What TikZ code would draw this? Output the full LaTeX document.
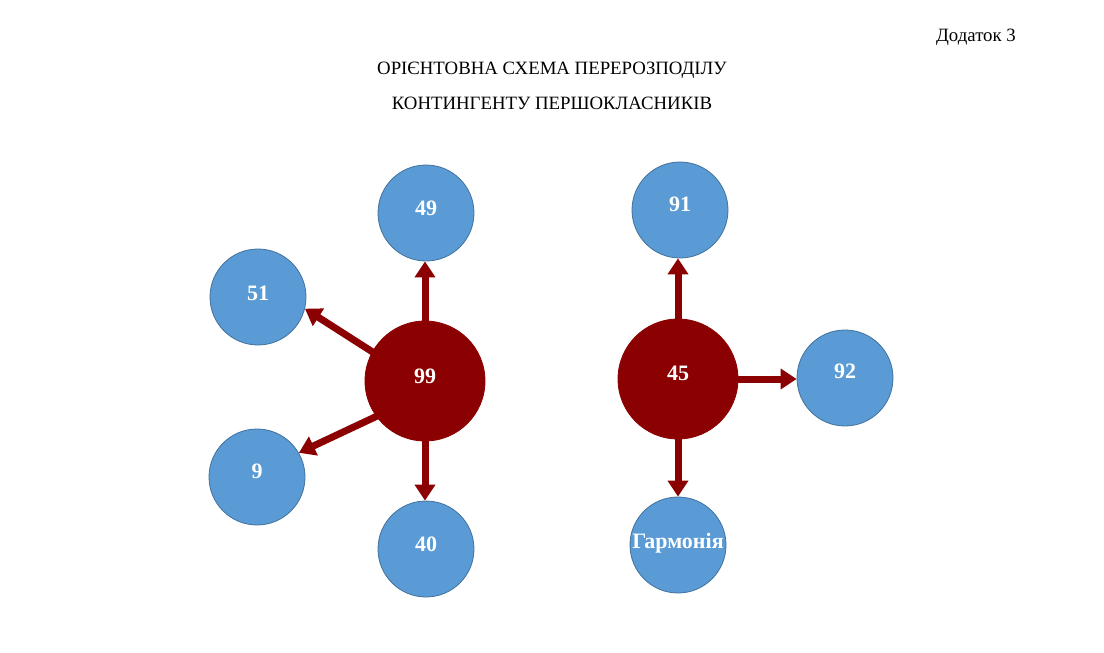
\documentclass[tikz,border=0pt]{standalone}
\usepackage{fontspec}
\setmainfont{Liberation Serif}
\usetikzlibrary{arrows.meta}
\definecolor{cblue}{HTML}{5B9BD5}
\definecolor{cblueb}{HTML}{41719C}
\definecolor{cred}{HTML}{8B0000}
\tikzset{
  small/.style={circle, fill=cblue, draw=cblueb, line width=0.8pt, minimum size=96pt, inner sep=0pt},
  big/.style={circle, fill=cred, draw=cred, line width=0.8pt, minimum size=120pt, inner sep=0pt},
  lab/.style={font=\bfseries\fontsize{22}{26}\selectfont, text=white},
  arr/.style={draw=cred, line width=7pt, -{Triangle[width=20pt,length=16pt]}, shorten <=-1pt},
  ttl/.style={font=\fontsize{18.8}{22}\selectfont}
}
\begin{document}
\begin{tikzpicture}[x=1pt,y=-1pt]
\useasboundingbox (0,0) rectangle (1104,653);
\node[ttl] (add) at (976,37) {Додаток 3};
\node[ttl] (t1) at (552,70) {ОРІЄНТОВНА СХЕМА ПЕРЕРОЗПОДІЛУ};
\node[ttl] (t2) at (552,103) {КОНТИНГЕНТУ ПЕРШОКЛАСНИКІВ};

\node[small, label={[lab,yshift=5pt]center:49}] (n49) at (426,213) {};
\node[small, label={[lab,yshift=4pt]center:51}] (n51) at (258,297) {};
\node[big, label={[lab,yshift=5pt]center:99}] (n99) at (425,381) {};
\node[small, label={[lab,yshift=6pt]center:9}] (n9) at (257,477) {};
\node[small, label={[lab,yshift=5pt]center:40}] (n40) at (426,549) {};

\node[small, label={[lab,yshift=6pt]center:91}] (n91) at (680,210) {};
\node[big, label={[lab,yshift=6pt]center:45}] (n45) at (678,379) {};
\node[small, label={[lab,yshift=7pt]center:92}] (n92) at (845,378) {};
\node[small, label={[lab,yshift=2pt]center:Гармонія}] (nh) at (678,545) {};

\draw[arr] (n99.north) -- (n49.south -| n99.north);
\draw[arr] (n99.151) -- (n51.-14);
\draw[arr] (n99.216) -- (n9.30);
\draw[arr] (n99.south) -- (n40.north -| n99.south);
\draw[arr] (n45.north) -- (n91.south -| n45.north);
\draw[arr] (n45.east) -- (n92.west |- n45.east);
\draw[arr] (n45.south) -- (nh.north);
\end{tikzpicture}
\end{document}
